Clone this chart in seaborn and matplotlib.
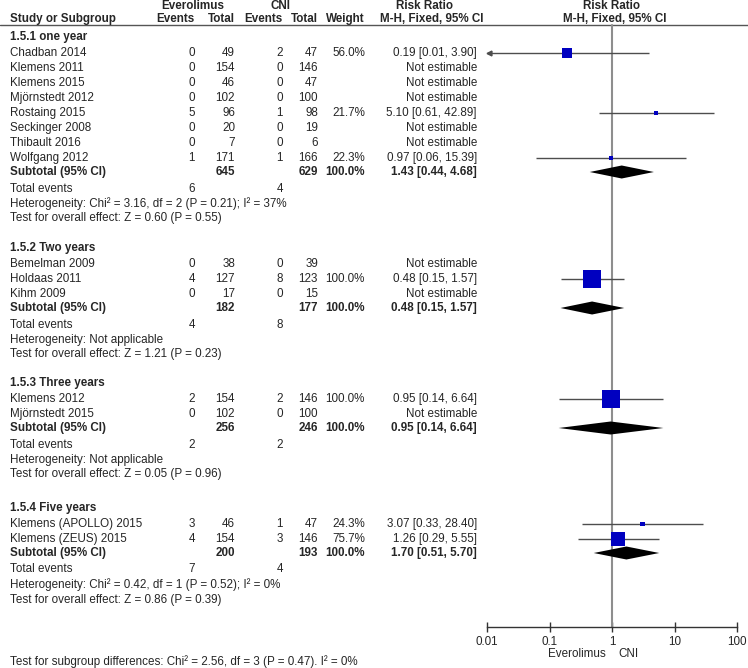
import matplotlib
matplotlib.use("Agg")
import matplotlib.pyplot as plt
import seaborn as sns
import pandas as pd
import numpy as np

sns.set_theme(style="white")
plt.rcParams['font.family'] = ['Liberation Sans', 'DejaVu Sans']

# ---------------- data ----------------
groups = ["1.5.1 one year", "1.5.2 Two years", "1.5.3 Three years", "1.5.4 Five years"]
study_group = [0, 0, 0, 0, 0, 0, 0, 0, 1, 1, 1, 2, 2, 3, 3]
studies = ["Chadban 2014", "Klemens 2011", "Klemens 2015", "Mjörnstedt 2012",
           "Rostaing 2015", "Seckinger 2008", "Thibault 2016", "Wolfgang 2012",
           "Bemelman 2009", "Holdaas 2011", "Kihm 2009",
           "Klemens 2012", "Mjörnstedt 2015",
           "Klemens (APOLLO) 2015", "Klemens (ZEUS) 2015"]
evr_events = [0, 0, 0, 0, 5, 0, 0, 1, 0, 4, 0, 2, 0, 3, 4]
evr_total = [49, 154, 46, 102, 96, 20, 7, 171, 38, 127, 17, 154, 102, 46, 154]
cni_events = [2, 0, 0, 0, 1, 0, 0, 1, 0, 8, 0, 2, 0, 1, 3]
cni_total = [47, 146, 47, 100, 98, 19, 6, 166, 39, 123, 15, 146, 100, 47, 146]
weights = [56.0, None, None, None, 21.7, None, None, 22.3,
           None, 100.0, None, 100.0, None, 24.3, 75.7]
rr = [0.19, None, None, None, 5.10, None, None, 0.97,
      None, 0.48, None, 0.95, None, 3.07, 1.26]
rr_lo = [0.01, None, None, None, 0.61, None, None, 0.06,
         None, 0.15, None, 0.14, None, 0.33, 0.29]
rr_hi = [3.90, None, None, None, 42.89, None, None, 15.39,
         None, 1.57, None, 6.64, None, 28.40, 5.55]

sub_evr_total = [645, 182, 256, 200]
sub_cni_total = [629, 177, 246, 193]
sub_rr = [1.43, 0.48, 0.95, 1.70]
sub_lo = [0.44, 0.15, 0.14, 0.51]
sub_hi = [4.68, 1.57, 6.64, 5.70]
tot_evr_events = [6, 4, 2, 7]
tot_cni_events = [4, 8, 2, 4]
heterogeneity = ["Heterogeneity: Chi² = 3.16, df = 2 (P = 0.21); I² = 37%",
                 "Heterogeneity: Not applicable",
                 "Heterogeneity: Not applicable",
                 "Heterogeneity: Chi² = 0.42, df = 1 (P = 0.52); I² = 0%"]
overall = ["Test for overall effect: Z = 0.60 (P = 0.55)",
           "Test for overall effect: Z = 1.21 (P = 0.23)",
           "Test for overall effect: Z = 0.05 (P = 0.96)",
           "Test for overall effect: Z = 0.86 (P = 0.39)"]
subgroup_diff = "Test for subgroup differences: Chi² = 2.56, df = 3 (P = 0.47). I² = 0%"
tick_values = [0.01, 0.1, 1, 10, 100]
tick_labels = ["0.01", "0.1", "1", "10", "100"]
favours = ["Everolimus", "CNI"]

# ---------------- layout ----------------
W, H = 748, 668
fig = plt.figure(figsize=(W / 100, H / 100), dpi=100)
fig.patch.set_facecolor("white")
ax0 = fig.add_axes([0, 0, 1, 1])
ax0.set_xlim(0, W)
ax0.set_ylim(H, 0)
ax0.axis("off")

X0, X1 = 487, 737
ax = fig.add_axes([X0 / W, 0, (X1 - X0) / W, 1])
ax.set_xscale("log")
ax.set_xlim(0.01, 100)
ax.set_ylim(H, 0)
ax.patch.set_alpha(0)

FS = 8.4
col_name = 10
col_ee, col_et, col_ce, col_ct, col_w = 195, 235, 283, 318, 365
col_ci = 477
group_y = [37, 248, 383, 508]
STEP = 15

def t(x, y, s, ha="left", bold=False, **kw):
    ax0.text(x, y, s, ha=ha, va="center", fontsize=FS,
             fontweight="bold" if bold else "normal", **kw)

# header
t(193, 6, "Everolimus", ha="center", bold=True)
t(281, 6, "CNI", ha="center", bold=True)
t(425, 6, "Risk Ratio", ha="center", bold=True)
t(612, 6, "Risk Ratio", ha="center", bold=True)
t(col_name, 19, "Study or Subgroup", bold=True)
t(col_ee, 19, "Events", ha="right", bold=True)
t(col_et, 19, "Total", ha="right", bold=True)
t(col_ce, 19, "Events", ha="right", bold=True)
t(col_ct, 19, "Total", ha="right", bold=True)
t(col_w, 19, "Weight", ha="right", bold=True)
t(432, 19, "M-H, Fixed, 95% CI", ha="center", bold=True)
t(615, 19, "M-H, Fixed, 95% CI", ha="center", bold=True)
ax0.plot([0, W], [24.5, 24.5], color="#555555", lw=1.0)

study_y = [None] * len(studies)
sub_y = []
for g, gname in enumerate(groups):
    y = group_y[g]
    t(col_name, y, gname, bold=True)
    y += 16
    idx = [i for i, sg in enumerate(study_group) if sg == g]
    for i in idx:
        study_y[i] = y
        t(col_name, y, studies[i])
        t(col_ee, y, str(evr_events[i]), ha="right")
        t(col_et, y, str(evr_total[i]), ha="right")
        t(col_ce, y, str(cni_events[i]), ha="right")
        t(col_ct, y, str(cni_total[i]), ha="right")
        if weights[i] is not None:
            t(col_w, y, f"{weights[i]:.1f}%", ha="right")
        if rr[i] is not None:
            t(col_ci, y, f"{rr[i]:.2f} [{rr_lo[i]:.2f}, {rr_hi[i]:.2f}]", ha="right")
        else:
            t(col_ci, y, "Not estimable", ha="right")
        y += STEP
    y -= 1
    sub_y.append(y)
    t(col_name, y, "Subtotal (95% CI)", bold=True)
    t(col_et, y, str(sub_evr_total[g]), ha="right", bold=True)
    t(col_ct, y, str(sub_cni_total[g]), ha="right", bold=True)
    t(col_w, y, "100.0%", ha="right", bold=True)
    t(col_ci, y, f"{sub_rr[g]:.2f} [{sub_lo[g]:.2f}, {sub_hi[g]:.2f}]", ha="right", bold=True)
    y += 16.5
    t(col_name, y, "Total events")
    t(col_ee, y, str(tot_evr_events[g]), ha="right")
    t(col_ce, y, str(tot_cni_events[g]), ha="right")
    y += 15
    t(col_name, y, heterogeneity[g])
    y += 15
    t(col_name, y, overall[g])

t(col_name, 662, subgroup_diff)

# ---------------- forest plot ----------------
AXIS_Y = 627
ax.plot([1, 1], [24.5, AXIS_Y], color="#8e8e8e", lw=1.5, zorder=1)

line_col = "#4d4d4d"
for i in range(len(studies)):
    if rr[i] is None:
        continue
    lo = max(rr_lo[i], 0.01)
    hi = min(rr_hi[i], 100)
    ax.hlines(study_y[i], lo, hi, color=line_col, lw=1.0, zorder=2)
    if rr_lo[i] <= 0.01:
        ax.plot([0.0106], [study_y[i]], marker="<", markersize=3.5,
                color=line_col, clip_on=False, zorder=3)
    if rr_hi[i] >= 100:
        ax.plot([94], [study_y[i]], marker=">", markersize=3.5,
                color=line_col, clip_on=False, zorder=3)

df = pd.DataFrame({
    "rr": [rr[i] for i in range(len(studies)) if rr[i] is not None],
    "y": [study_y[i] for i in range(len(studies)) if rr[i] is not None],
    "weight": [weights[i] for i in range(len(studies)) if rr[i] is not None],
})
size_map = {w: (0.72 * max(4.5, 0.18 * w)) ** 2 for w in df["weight"].unique()}
sns.scatterplot(data=df, x="rr", y="y", size="weight", sizes=size_map,
                marker="s", color="#0000c0", linewidth=0, legend=False,
                ax=ax, zorder=4)

for g in range(len(groups)):
    yy = sub_y[g]
    ax.fill([sub_lo[g], sub_rr[g], sub_hi[g], sub_rr[g]],
            [yy, yy - 6.5, yy, yy + 6.5], color="black", lw=0, zorder=5)

# axis
for s in ["top", "left", "right"]:
    ax.spines[s].set_visible(False)
ax.spines["bottom"].set_position(("data", AXIS_Y))
ax.spines["bottom"].set_color("#333333")
ax.spines["bottom"].set_linewidth(1.0)
ax.set_xticks(tick_values)
ax.set_xticklabels(tick_labels)
ax.minorticks_off()
ax.tick_params(axis="x", direction="inout", length=7, width=1, color="#333333",
               labelsize=FS, pad=3, bottom=True)
ax.set_yticks([])
ax.set_xlabel("")
ax.set_ylabel("")
t(577, 654, favours[0], ha="center")
t(628, 654, favours[1], ha="center")

fig.savefig("out.png", dpi=100)
